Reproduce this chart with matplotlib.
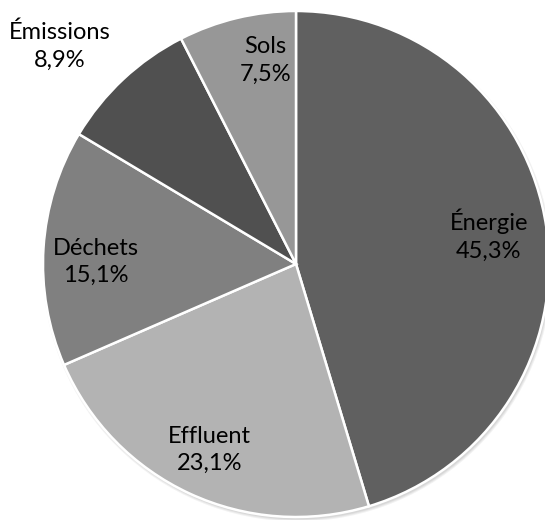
import numpy as np
import matplotlib
matplotlib.use("Agg")
import matplotlib.pyplot as plt
from matplotlib.patches import Circle

labels = ["Énergie", "Effluent", "Déchets", "Émissions", "Sols"]
values = [45.3, 23.1, 15.1, 8.9, 7.5]
colors = ["#606060", "#b3b3b3", "#808080", "#505050", "#979797"]
# label placement: distance (fraction of radius) and angle override (None = wedge middle)
label_dist = [0.77, 0.81, 0.79, 1.27, 0.815]
label_ang = [None, None, 179.4, 137.3, 98.6]

plt.rcParams["font.family"] = ["Lato", "DejaVu Sans"]

fig = plt.figure(figsize=(5.45, 5.2), dpi=100)
ax = fig.add_axes([0, 0, 1, 1])

cx, cy, r = 296, 256, 253

# soft shadow under the pie
for i, a in enumerate([0.05, 0.05, 0.06]):
    ax.add_patch(Circle((cx + 1.5, cy - 2.5), r + 2 - i, color="black", alpha=a, lw=0, zorder=0))

wedges, _ = ax.pie(values, colors=colors, startangle=90, counterclock=False,
                   radius=r, center=(cx, cy), frame=True,
                   wedgeprops=dict(edgecolor="white", linewidth=1.8))
ax.set_xlim(0, 545)
ax.set_ylim(0, 520)
ax.set_aspect("equal")
ax.axis("off")

for w, lab, v, d, a in zip(wedges, labels, values, label_dist, label_ang):
    ang = np.deg2rad(a if a is not None else (w.theta1 + w.theta2) / 2)
    x = cx + d * r * np.cos(ang)
    y = cy + d * r * np.sin(ang)
    txt = f"{lab}\n{v:.1f}%".replace(".", ",")
    ax.text(x, y, txt, ha="center", va="center", fontsize=17,
            color="black", linespacing=1.4, zorder=5)

fig.savefig("out.png", dpi=100)
